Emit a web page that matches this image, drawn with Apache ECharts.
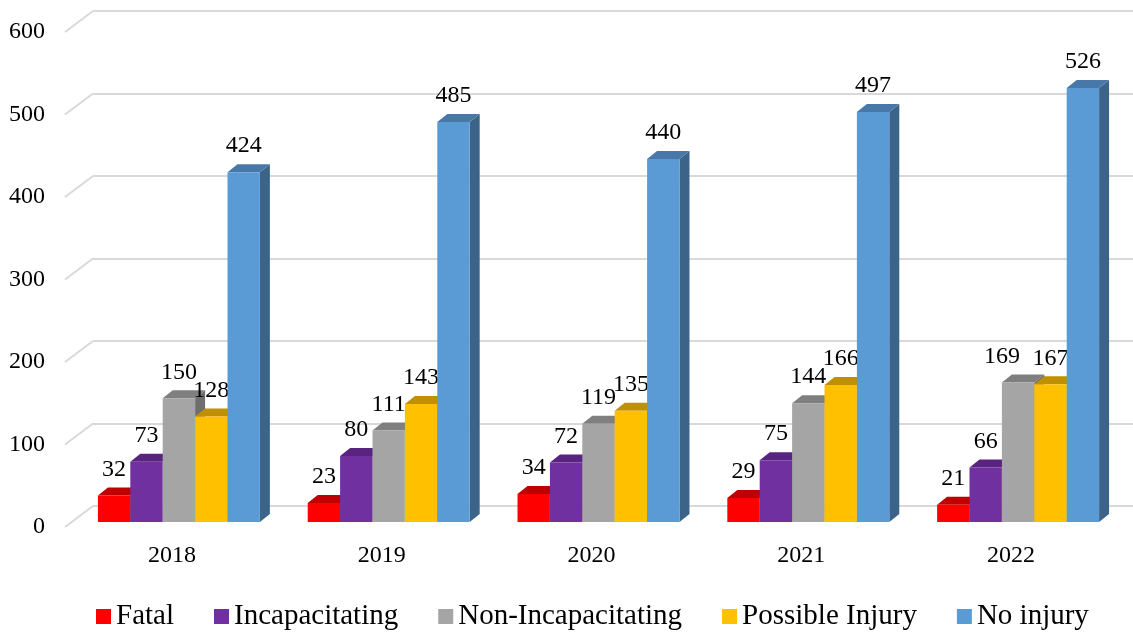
<!DOCTYPE html>
<html>
<head>
<meta charset="utf-8">
<script src="https://cdn.jsdelivr.net/npm/echarts@6/dist/echarts.min.js"></script>
<style>
  html, body { margin: 0; padding: 0; background: #fff; }
  #chart { width: 1133px; height: 632px; }
</style>
</head>
<body>
<div id="chart"></div>
<script>
// Crash counts by injury severity, 2018-2022
const years = ['2018', '2019', '2020', '2021', '2022'];
const fatal = [32, 23, 34, 29, 21];
const incapacitating = [73, 80, 72, 75, 66];
const nonIncapacitating = [150, 111, 119, 144, 169];
const possibleInjury = [128, 143, 135, 166, 167];
const noInjury = [424, 485, 440, 497, 526];
const yTicks = [0, 100, 200, 300, 400, 500, 600];

const seriesNames = ['Fatal', 'Incapacitating', 'Non-Incapacitating', 'Possible Injury', 'No injury'];
const seriesValues = [fatal, incapacitating, nonIncapacitating, possibleInjury, noInjury];
// front, top, side shades for each series
const shades = [
  ['#FF0000', '#C00000', '#A80000'],
  ['#7030A0', '#58247F', '#4A1E6B'],
  ['#A5A5A5', '#7F7F7F', '#6E6E6E'],
  ['#FFC000', '#BF9000', '#A67C00'],
  ['#5B9BD5', '#4878A8', '#3C6489']
];

const FONT = "'Times New Roman', 'Liberation Serif', serif";
const DEPTH_X = 10, DEPTH_Y = 8;   // oblique depth of each bar
const SHIFT_X = 7;                  // bars sit a little behind the front plane

function barRenderer(idx) {
  return function (params, api) {
    const cat = api.value(0);
    const val = api.value(1);
    const band = api.size([1, 0])[0];
    const groupW = band * 0.772;
    const w = groupW / 5;
    const center = api.coord([cat, 0])[0];
    const base = api.coord([cat, 0])[1];
    const top = api.coord([cat, val])[1];
    const x0 = center + SHIFT_X - groupW / 2 + idx * w;
    const c = shades[idx];
    // nudge a label left when the next bar's label would sit at the same height
    let labelX = x0 + w / 2;
    const next = seriesValues[idx + 1];
    if (next && Math.abs(next[cat] - val) < 10) labelX -= w / 2;
    return {
      type: 'group',
      children: [
        { type: 'polygon', shape: { points: [[x0 + w, top], [x0 + w + DEPTH_X, top - DEPTH_Y], [x0 + w + DEPTH_X, base - DEPTH_Y], [x0 + w, base]] }, style: { fill: c[2] } },
        { type: 'polygon', shape: { points: [[x0, top], [x0 + w, top], [x0 + w + DEPTH_X, top - DEPTH_Y], [x0 + DEPTH_X, top - DEPTH_Y]] }, style: { fill: c[1] } },
        { type: 'rect', shape: { x: x0, y: top, width: w, height: base - top }, style: { fill: c[0] } },
        { type: 'text', x: labelX, y: top - 26, style: { text: String(val), fill: '#000', font: '24px ' + FONT, align: 'center', verticalAlign: 'middle' } }
      ]
    };
  };
}

const barSeries = seriesNames.map((name, i) => ({
  name: name,
  type: 'custom',
  xAxisIndex: 0,
  yAxisIndex: 0,
  itemStyle: { color: shades[i][0] },
  renderItem: barRenderer(i),
  data: years.map((y, k) => [k, seriesValues[i][k]]),
  z: 10 + i
}));

// diagonal tick lines joining the front value labels to the back wall
const wallSeries = {
  type: 'custom',
  xAxisIndex: 1,
  yAxisIndex: 1,
  silent: true,
  z: 1,
  renderItem: function (params, api) {
    const p = api.coord([0, api.value(1)]);
    return {
      type: 'line',
      shape: { x1: p[0], y1: p[1], x2: p[0] - 28, y2: p[1] + 21 },
      style: { stroke: '#D9D9D9', lineWidth: 2 }
    };
  },
  data: yTicks.map(v => [0, v])
};

const chart = echarts.init(document.getElementById('chart'), null, { renderer: 'canvas' });
chart.setOption({
  animation: false,
  backgroundColor: '#fff',
  textStyle: { fontFamily: FONT },
  grid: [
    { left: 67, right: 17, top: 27, bottom: 110 },   // bars
    { left: 93, right: 0, top: 11, bottom: 126 },    // back wall
    { left: 65, right: 0, top: 32, bottom: 105 }     // front value labels
  ],
  xAxis: [
    {
      gridIndex: 0, type: 'category', data: years,
      axisLine: { show: false }, axisTick: { show: false },
      axisLabel: { fontSize: 24, color: '#000', margin: 22, fontFamily: FONT }
    },
    { gridIndex: 1, type: 'value', min: 0, max: 1, show: false },
    { gridIndex: 2, type: 'value', min: 0, max: 1, show: false }
  ],
  yAxis: [
    { gridIndex: 0, type: 'value', min: 0, max: 600, interval: 100, show: false },
    {
      gridIndex: 1, type: 'value', min: 0, max: 600, interval: 100,
      axisLine: { show: false }, axisTick: { show: false }, axisLabel: { show: false },
      splitLine: { show: true, lineStyle: { color: '#D9D9D9', width: 2 } }
    },
    {
      gridIndex: 2, type: 'value', min: 0, max: 600, interval: 100,
      axisLine: { show: false }, axisTick: { show: false }, splitLine: { show: false },
      axisLabel: { fontSize: 24, color: '#000', margin: 20, fontFamily: FONT }
    }
  ],
  legend: {
    data: seriesNames,
    left: 91,
    top: 597,
    icon: 'rect',
    itemWidth: 15,
    itemHeight: 15,
    itemGap: 40,
    textStyle: { fontSize: 29, color: '#000', fontFamily: FONT }
  },
  series: [wallSeries].concat(barSeries)
});
</script>
</body>
</html>
